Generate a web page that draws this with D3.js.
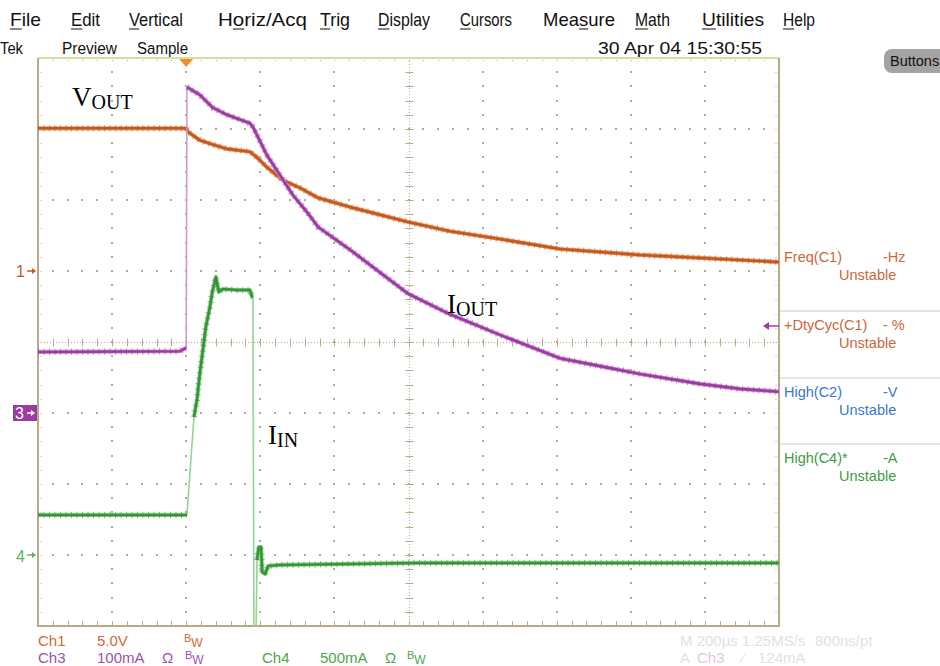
<!DOCTYPE html>
<html>
<head>
<meta charset="utf-8">
<script src="https://cdn.jsdelivr.net/npm/d3@7"></script>
<style>
  body { margin: 0; background: #fff; }
  svg { display: block; font-family: "Liberation Sans", Arial, sans-serif; }
</style>
</head>
<body>
<div id="scope"></div>
<script>
// ---- data (time in us from trigger) ----
var vOutT = [-400, 0, 5, 37, 72, 110, 172, 191, 218, 261, 307, 356, 442, 599, 712, 847, 1009, 1225, 1387, 1600];
var vOutV = [10.05, 10.05, 9.8, 9.2, 8.9, 8.6, 8.4, 8.0, 7.3, 6.4, 5.85, 5.15, 4.5, 3.45, 2.8, 2.25, 1.55, 1.13, 0.92, 0.63];

var iOutT = [-400, -17, -3, 0, 2, 37, 72, 110, 172, 180, 218, 253, 288, 326, 356, 442, 599, 712, 847, 1009, 1117, 1225, 1387, 1495, 1600];
var iOutMa = [86, 87, 91, 91, 459, 448, 430, 420, 408, 403, 363, 335, 307, 283, 262, 230, 168, 139, 110, 77, 66, 55, 41, 34, 30];

var iInT = [-400, 2, 21, 29, 37, 45, 53, 64, 70, 80, 88, 99, 137, 172, 178, 180, 183, 188, 191, 196, 202, 205, 213, 221, 253, 631, 1600];
var iInMa = [282, 282, 972, 1092, 1282, 1444, 1606, 1746, 1845, 1958, 1852, 1873, 1866, 1866, 1817, 1817, -700, -700, -35, 56, 56, -120, -134, -77, -70, -56, -56];

var menuLabels = ["File", "Edit", "Vertical", "Horiz/Acq", "Trig", "Display", "Cursors", "Measure", "Math", "Utilities", "Help"];
var menuUnderline = [0, 0, 0, 1, 0, 0, 0, 3, 0, 0, 0];
var menuX = [[10, 41], [71, 100], [129, 183], [218, 307], [320, 350], [378, 430], [460, 512], [543, 615], [635, 670], [702, 764], [783, 815]];

var measNames = ["Freq(C1)", "+DtyCyc(C1)", "High(C2)", "High(C4)*"];
var measUnits = ["-Hz", "- %", "-V", "-A"];
var measState = ["Unstable", "Unstable", "Unstable", "Unstable"];

var C1 = "#c4581f", C1L = "#e49a68";
var C3 = "#9a3ca2", C3L = "#cf9ad2";
var C4 = "#379437", C4L = "#94d494";
var GRID = "#b8aa88";

var W = 940, H = 666;
var L = 38, R = 779, T = 58, B = 626;

var svg = d3.select('#scope').append('svg').attr('width', W).attr('height', H);
svg.append('rect').attr('width', W).attr('height', H).attr('fill', '#fff');

var xDiv = d3.scaleLinear().domain([0, 10]).range([L, R]);
var yDiv = d3.scaleLinear().domain([-4, 4]).range([B, T]);
var x = d3.scaleLinear().domain([-400, 1600]).range([L, R]);
// each channel: its own offset + volts/div
var y1 = d3.scaleLinear().domain([-25, 15]).range([B, T]);     // 5 V/div, gnd +1 div
var y3 = d3.scaleLinear().domain([-300, 500]).range([B, T]);   // 100 mA/div, gnd -1 div
var y4 = d3.scaleLinear().domain([-500, 3500]).range([B, T]);  // 500 mA/div, gnd -3 div

// ---- menu bar ----
menuLabels.forEach(function (lab, i) {
  var t = svg.append('text').attr('x', menuX[i][0]).attr('y', 26)
    .attr('font-size', 19).attr('fill', '#111').text(lab);
  var nat = t.node().getComputedTextLength();
  var want = menuX[i][1] - menuX[i][0];
  var k = want / nat;
  var u = menuUnderline[i];
  var ux = menuX[i][0] + (u > 0 ? t.node().getSubStringLength(0, u) : 0) * k;
  var uw = t.node().getSubStringLength(u, 1) * k;
  t.attr('textLength', want).attr('lengthAdjust', 'spacingAndGlyphs');
  svg.append('line').attr('x1', ux).attr('x2', ux + uw).attr('y1', 29).attr('y2', 29)
    .attr('stroke', '#111').attr('stroke-width', 1);
});

function label(txt, x0, y0, size, fill, len) {
  var t = svg.append('text').attr('x', x0).attr('y', y0).attr('font-size', size).attr('fill', fill).text(txt);
  if (len) t.attr('textLength', len).attr('lengthAdjust', 'spacingAndGlyphs');
  return t;
}
label("Tek", 0, 54, 16, '#111', 23);
label("Preview", 62, 54, 16, '#111', 55);
label("Sample", 137, 54, 16, '#111', 51);
label("30 Apr 04 15:30:55", 598, 54, 16, '#111', 164);

// Buttons pill
svg.append('rect').attr('x', 884).attr('y', 49).attr('width', 70).attr('height', 24).attr('rx', 8)
  .attr('fill', '#a3a3a3');
label("Buttons", 890, 66, 14.5, '#111');

// ---- graticule ----
var grid = svg.append('g').attr('fill', GRID).attr('stroke', 'none');
for (var i = 1; i < 10; i++) {
  if (i === 5) continue;
  for (var j = 1; j < 40; j++) grid.append('rect').attr('x', Math.round(xDiv(i)) - 1).attr('y', Math.round(yDiv(-4 + j * 0.2)) - 1).attr('width', 2).attr('height', 2);
}
for (var k = -3; k <= 3; k++) {
  if (k === 0) continue;
  for (var j = 1; j < 50; j++) grid.append('rect').attr('x', Math.round(xDiv(j * 0.2)) - 1).attr('y', Math.round(yDiv(k)) - 1).attr('width', 2).attr('height', 2);
}
// centre axes with minor ticks
var axisG = svg.append('g').attr('stroke', GRID).attr('stroke-width', 1);
var cy = Math.round(yDiv(0)) + 0.5, cx = Math.round(xDiv(5)) + 0.5;
axisG.append('line').attr('x1', L).attr('x2', R).attr('y1', cy).attr('y2', cy).attr('stroke-dasharray', '1,2');
axisG.append('line').attr('x1', cx).attr('x2', cx).attr('y1', T).attr('y2', B).attr('stroke-dasharray', '1,2');
for (var j = 1; j < 50; j++) {
  var xx = Math.round(xDiv(j * 0.2)) + 0.5;
  axisG.append('line').attr('x1', xx).attr('x2', xx).attr('y1', cy - 4).attr('y2', cy + 4);
  axisG.append('line').attr('x1', xx).attr('x2', xx).attr('y1', T).attr('y2', T + 4).attr('stroke-dasharray', '1,1');
  axisG.append('line').attr('x1', xx).attr('x2', xx).attr('y1', B).attr('y2', B - 5);
}
for (var j = 1; j < 40; j++) {
  var yy = Math.round(yDiv(-4 + j * 0.2)) + 0.5;
  axisG.append('line').attr('x1', cx - 4).attr('x2', cx + 4).attr('y1', yy).attr('y2', yy);
  axisG.append('line').attr('x1', L).attr('x2', L + 5).attr('y1', yy).attr('y2', yy).attr('stroke-dasharray', '1,1.5');
  axisG.append('line').attr('x1', R).attr('x2', R - 5).attr('y1', yy).attr('y2', yy).attr('stroke-dasharray', '1,1.5');
}
// frame
svg.append('line').attr('x1', L).attr('x2', R).attr('y1', T).attr('y2', T).attr('stroke', '#d6dea0').attr('stroke-width', 2);
svg.append('path').attr('d', 'M' + L + ',' + T + 'V' + B + 'H' + R + 'V' + T)
  .attr('fill', 'none').attr('stroke', GRID).attr('stroke-width', 2);

// ---- traces ----
svg.append('clipPath').attr('id', 'clip').append('rect').attr('x', L).attr('y', T).attr('width', R - L).attr('height', B - T);

function drawTrace(ts, vs, ys, dark, light) {
  var pts = ts.map(function (d, i) { return [x(d), ys(vs[i])]; });
  var g = svg.append('g').attr('clip-path', 'url(#clip)').attr('fill', 'none');
  g.append('path').attr('d', d3.line()(pts)).attr('stroke', light).attr('stroke-width', 1.6);
  // dense (slow) parts of the record show as a thick noisy band; fast edges stay thin
  var runs = [], cur = [pts[0]];
  for (var i = 1; i < pts.length; i++) {
    var dx = Math.abs(pts[i][0] - pts[i - 1][0]), dy = Math.abs(pts[i][1] - pts[i - 1][1]);
    if (dy <= 30 || dy < 8 * dx) cur.push(pts[i]);
    else { if (cur.length > 1) runs.push(cur); cur = [pts[i]]; }
  }
  if (cur.length > 1) runs.push(cur);
  runs.forEach(function (r) {
    var d = d3.line()(r);
    g.append('path').attr('d', d).attr('stroke', light).attr('stroke-width', 4.2).attr('stroke-linejoin', 'round');
    g.append('path').attr('d', d).attr('stroke', dark).attr('stroke-width', 2.6).attr('stroke-linejoin', 'round');
    g.append('path').attr('d', d).attr('stroke', dark).attr('stroke-width', 6.5).attr('stroke-dasharray', '1,4.5')
      .attr('opacity', 0.55);
  });
}
drawTrace(iInT, iInMa, y4, C4, C4L);
drawTrace(vOutT, vOutV, y1, C1, C1L);
drawTrace(iOutT, iOutMa, y3, C3, C3L);

// trigger position marker
svg.append('path').attr('d', 'M' + (x(0) - 7) + ',' + (T + 1) + 'L' + (x(0) + 7) + ',' + (T + 1) + 'L' + x(0) + ',' + (T + 9) + 'Z')
  .attr('fill', '#f0902c');

// ---- channel ground markers ----
function gndArrow(yy, color) {
  svg.append('line').attr('x1', 27).attr('x2', 35).attr('y1', yy).attr('y2', yy).attr('stroke', color).attr('stroke-width', 1.5);
  svg.append('path').attr('d', 'M36,' + yy + 'l-4,-3v6z').attr('fill', color);
}
label("1", 16, y1(0) + 6, 16, C1);
gndArrow(y1(0), C1);
svg.append('rect').attr('x', 13).attr('y', y3(0) - 8).attr('width', 24).attr('height', 16).attr('fill', C3);
label("3", 15, y3(0) + 6, 16, '#fff');
svg.append('line').attr('x1', 27).attr('x2', 34).attr('y1', y3(0)).attr('y2', y3(0)).attr('stroke', '#fff').attr('stroke-width', 1.5);
svg.append('path').attr('d', 'M35,' + y3(0) + 'l-4,-3v6z').attr('fill', '#fff');
label("4", 16, y4(0) + 7, 16, '#5cb85c');
gndArrow(y4(0), '#5cb85c');

// duty-cycle marker on right edge
svg.append('line').attr('x1', 765).attr('x2', R).attr('y1', 326).attr('y2', 326).attr('stroke', C3).attr('stroke-width', 1.5);
svg.append('path').attr('d', 'M763,326l6,-4v8z').attr('fill', C3);

// ---- measurement readouts ----
var measColors = ["#c8683a", "#c8683a", "#3a78cc", "#3f9a3f"];
var measY = [262, 330, 397, 463];
measNames.forEach(function (n, i) {
  label(n, 784, measY[i], 14.5, measColors[i]);
  label(measUnits[i], 883, measY[i], 14.5, measColors[i]);
  label(measState[i], 839, measY[i] + 18, 14.5, measColors[i]);
});
[311, 378, 444].forEach(function (yy) {
  svg.append('line').attr('x1', R + 1).attr('x2', W).attr('y1', yy).attr('y2', yy).attr('stroke', '#dcdcdc').attr('stroke-width', 1.5);
});

// ---- waveform labels ----
function sigLabel(main, sub, x0, yb) {
  var t = svg.append('text').attr('x', x0).attr('y', yb).attr('fill', '#000')
    .attr('font-family', '"Liberation Serif", "Times New Roman", serif');
  t.append('tspan').attr('font-size', 27).text(main);
  t.append('tspan').attr('font-size', 20).attr('dy', 3).text(sub);
}
sigLabel("V", "OUT", 72, 106);
sigLabel("I", "OUT", 447, 313);
sigLabel("I", "IN", 268, 444);

// ---- channel settings footer ----
function bw(x0, yb, color) {
  var t = svg.append('text').attr('x', x0).attr('y', yb).attr('fill', color).attr('font-size', 11);
  t.append('tspan').attr('dy', -4).text("B");
  t.append('tspan').attr('dy', 5).attr('font-size', 12).text("W");
}
var FY1 = 646, FY2 = 663;
label("Ch1", 38, FY1, 15, '#cc6a35');
label("5.0V", 97, FY1, 15, '#cc6a35');
bw(184, FY1, '#cc6a35');
label("Ch3", 38, FY2, 15, '#a050aa');
label("100mA", 97, FY2, 15, '#a050aa');
label("\u03A9", 162, FY2, 15, '#a050aa');
bw(185, FY2, '#a050aa');
label("Ch4", 262, FY2, 15, '#4aa84a');
label("500mA", 320, FY2, 15, '#4aa84a');
label("\u03A9", 385, FY2, 15, '#4aa84a');
bw(407, FY2, '#4aa84a');
label("M 200\u00b5s 1.25MS/s", 680, FY1, 15, '#e2e2e2');
label("800ns/pt", 815, FY1, 15, '#e2e2e2');
label("A", 680, FY2, 15, '#e2e2e2');
label("Ch3", 697, FY2, 15, '#e0c8e2');
label("\u2044", 742, FY2, 15, '#e2e2e2');
label("124mA", 758, FY2, 15, '#e2e2e2');
</script>
</body>
</html>
